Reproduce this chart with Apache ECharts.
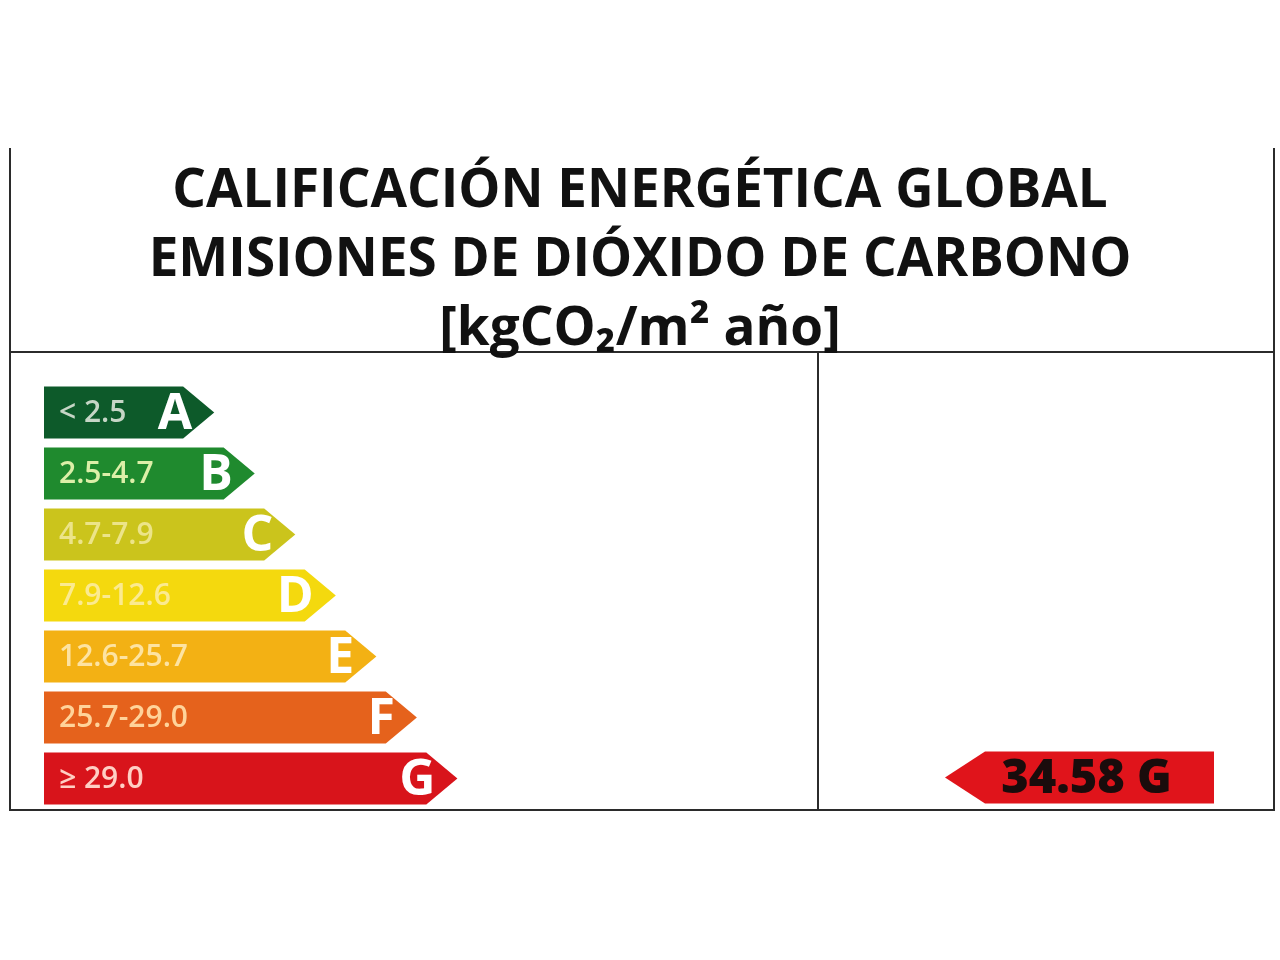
<!DOCTYPE html>
<html>
<head>
<meta charset="utf-8">
<script src="https://cdn.jsdelivr.net/npm/echarts@6/dist/echarts.min.js"></script>
<style>html,body{margin:0;padding:0;background:#fff;}#c{width:1280px;height:960px;}</style>
</head>
<body>
<div id="c"></div>
<script>
// ---- data ----
const classes = ['A', 'B', 'C', 'D', 'E', 'F', 'G'];
const ranges = ['< 2.5', '2.5-4.7', '4.7-7.9', '7.9-12.6', '12.6-25.7', '25.7-29.0', '≥ 29.0'];
const ranks = [1, 2, 3, 4, 5, 6, 7];
const barColors = ['#0d5a2a', '#1f8a2e', '#cbc41c', '#f4d90e', '#f3b114', '#e5621c', '#d8141b'];
const rangeColors = ['#c6d6c6', '#dcefa8', '#ece489', '#fbea90', '#fde3a2', '#ffd39a', '#ffcfc4'];
const titleLines = ['CALIFICACIÓN ENERGÉTICA GLOBAL', 'EMISIONES DE DIÓXIDO DE CARBONO', '[kgCO₂/m² año]'];
const ratingValue = 34.58;
const ratingClass = 'G';

const chart = echarts.init(document.getElementById('c'));
const XMIN = -3.2;
const lineColor = '#2b2b2b';

function frameLine(x1, y1, x2, y2) {
  return { type: 'line', shape: { x1, y1, x2, y2 }, style: { stroke: lineColor, lineWidth: 2 }, silent: true };
}

const option = {
  backgroundColor: '#ffffff',
  animation: false,
  title: titleLines.map((t, i) => ({
    text: t,
    left: 'center',
    top: 156 + i * 69,
    textStyle: { fontFamily: 'Open Sans', fontWeight: 'bold', fontSize: 53, color: '#111111', lineHeight: 62 }
  })),
  grid: [
    { left: 44, top: 382, width: 535, height: 427 },
    { left: 945, top: 382, width: 269, height: 427 }
  ],
  xAxis: [
    { type: 'value', gridIndex: 0, min: XMIN, max: 10, show: false },
    { type: 'value', gridIndex: 1, min: 0, max: 1, show: false }
  ],
  yAxis: [
    { type: 'category', gridIndex: 0, data: classes, inverse: true, show: false },
    { type: 'category', gridIndex: 1, data: classes, inverse: true, show: false }
  ],
  graphic: [
    frameLine(10, 148, 10, 811),
    frameLine(1274, 148, 1274, 811),
    frameLine(10, 352, 1274, 352),
    frameLine(818, 352, 818, 811),
    frameLine(10, 810, 1274, 810)
  ],
  series: [
    {
      type: 'custom',
      xAxisIndex: 0,
      yAxisIndex: 0,
      data: classes.map((c, i) => [ranks[i], i]),
      renderItem: function (params, api) {
        const idx = api.value(1);
        const start = api.coord([XMIN, idx]);
        const tipP = api.coord([api.value(0), idx]);
        const band = api.size([0, 1])[1];
        const half = band * 0.85 / 2;
        const head = half * 1.2;
        const left = start[0], cy = tipP[1], tip = tipP[0];
        const pts = [[left, cy - half], [tip - head, cy - half], [tip, cy], [tip - head, cy + half], [left, cy + half]];
        return {
          type: 'group',
          children: [
            { type: 'polygon', shape: { points: pts }, style: { fill: barColors[idx] } },
            { type: 'text', x: left + 15, y: cy + 1, style: { text: ranges[idx], fill: rangeColors[idx], fontFamily: 'Open Sans', fontWeight: 600, fontSize: 30, align: 'left', verticalAlign: 'middle' } },
            { type: 'text', x: tip - 22, y: cy + 2, style: { text: classes[idx], fill: '#ffffff', fontFamily: 'Open Sans', fontWeight: 'bold', fontSize: 50, align: 'right', verticalAlign: 'middle' } }
          ]
        };
      }
    },
    {
      type: 'custom',
      xAxisIndex: 1,
      yAxisIndex: 1,
      data: [[ratingValue, classes.indexOf(ratingClass)]],
      renderItem: function (params, api) {
        const idx = api.value(1);
        const a = api.coord([0, idx]);
        const b = api.coord([1, idx]);
        const band = api.size([0, 1])[1];
        const half = band * 0.85 / 2;
        const head = 40;
        const cy = a[1] - 1, tip = a[0], right = b[0];
        const pts = [[tip, cy], [tip + head, cy - half], [right, cy - half], [right, cy + half], [tip + head, cy + half]];
        return {
          type: 'group',
          children: [
            { type: 'polygon', shape: { points: pts }, style: { fill: '#e0141b' } },
            { type: 'text', x: (tip + head + right) / 2 - 13, y: cy + 2, style: { text: api.value(0).toFixed(2) + ' ' + ratingClass, fill: '#1a0c0c', fontFamily: 'Open Sans', fontWeight: 800, fontSize: 47, align: 'center', verticalAlign: 'middle' } }
          ]
        };
      }
    }
  ]
};
chart.setOption(option);
</script>
</body>
</html>
